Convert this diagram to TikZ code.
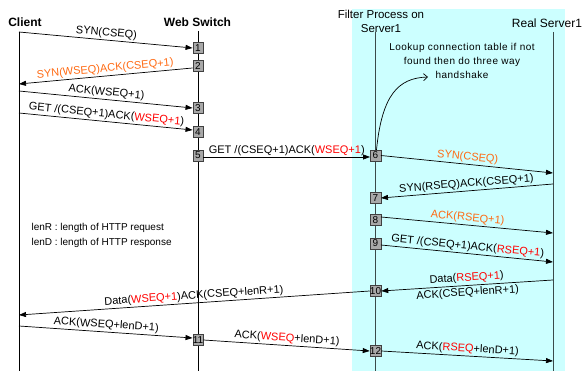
\documentclass[tikz,border=0pt]{standalone}
\usepackage{fontspec}
\setmainfont{Liberation Sans}
\usetikzlibrary{arrows.meta,calc}
\definecolor{panel}{HTML}{CCFFFF}
\definecolor{hl}{HTML}{FF6A13}
\definecolor{rd}{HTML}{FF0000}
\definecolor{boxgray}{HTML}{A8A8A8}
\definecolor{lifegray}{HTML}{3A4A4A}
\newcommand{\rseg}[1]{{\color{rd}#1}}
\begin{document}
\begin{tikzpicture}[x=1pt,y=-1pt,
  msg/.style={line width=0.7pt,-{Triangle[length=7pt,width=5pt]}},
  lbl/.style={font=\fontsize{11}{13}\selectfont, sloped, above, inner sep=1.5pt},
  lblb/.style={font=\fontsize{11}{13}\selectfont, sloped, below, inner sep=1.5pt},
  seqbox/.style={draw=black!75, fill=boxgray, minimum width=10.5pt, minimum height=11pt,
                 inner sep=0pt, font=\fontsize{10}{10}\selectfont},
  life/.style={line width=0.8pt},
  head/.style={font=\bfseries\fontsize{12}{14}\selectfont},
]
\useasboundingbox (0,0) rectangle (582,371);
% server-side panel
\fill[panel] (352,9) rectangle (565,371);

% participants
\node[head] (hc) at (25,22) {Client};
\node[head] (hw) at (197.5,22) {Web Switch};
\node[font=\fontsize{11.5}{14}\selectfont, align=center] (hf) at (381,21) {Filter Process on\\Server1};
\node[font=\fontsize{12}{14}\selectfont] (hr) at (547,23) {Real Server1};

% lifelines
\draw[life] (19,32) -- (19,371);
\draw[life] (198,31) -- (198,371);
\draw[life,lifegray] (375.5,32) -- (375.5,371);
\draw[life,lifegray] (553,32) -- (553,371);

% points on the client lifeline
\coordinate (c1) at (19,32);
\coordinate (c2) at (19,84);
\coordinate (c3) at (19,91);
\coordinate (c4) at (19,113);
\coordinate (c10) at (19,315);
\coordinate (c11) at (19,326);
% points on the real server lifeline
\coordinate (r6) at (553,173);
\coordinate (r7) at (553,184);
\coordinate (r8) at (553,233);
\coordinate (r9) at (553,262);
\coordinate (r10) at (553,280);
\coordinate (r13) at (553,361);

% sequence boxes
\node[seqbox] (b1) at (198,48) {1};
\node[seqbox] (b2) at (198,66) {2};
\node[seqbox] (b3) at (198,108) {3};
\node[seqbox] (b4) at (198,132) {4};
\node[seqbox] (b5) at (198,155.5) {5};
\node[seqbox] (b6) at (375.5,155.5) {6};
\node[seqbox] (b7) at (375.5,198) {7};
\node[seqbox] (b8) at (375.5,220) {8};
\node[seqbox] (b9) at (375.5,243.5) {9};
\node[seqbox] (b10) at (375.5,291) {10};
\node[seqbox] (b11) at (198,340) {11};
\node[seqbox] (b12) at (375.5,351) {12};

% client <-> web switch
\draw[msg] (c1) -- (b1.west) node[lbl,midway] {SYN(CSEQ)};
\draw[msg] ([yshift=-2pt]b2.west) -- (c2) node[lbl,midway,text=hl] {SYN(WSEQ)ACK(CSEQ+1)};
\draw[msg] (c3) -- (b3.west) node[lbl,midway] {ACK(WSEQ+1)};
\draw[msg] (c4) -- ([yshift=2pt]b4.west) node[lbl,midway] {GET /(CSEQ+1)ACK(\rseg{WSEQ+1})};

% web switch -> filter
\draw[msg] ([yshift=-1.5pt]b5.east) -- ([yshift=-1.5pt]b6.west) node[lbl,midway,inner sep=0.5pt] {GET /(CSEQ+1)ACK(\rseg{WSEQ+1})};

% filter <-> real server
\draw[msg] (b6.east) -- (r6) node[lbl,midway,text=hl] {SYN(CSEQ)};
\draw[msg] (r7) -- (b7.east) node[lbl,midway] {SYN(RSEQ)ACK(CSEQ+1)};
\draw[msg] ([yshift=3pt]b8.east) -- (r8) node[lbl,midway,text=hl] {ACK(RSEQ+1)};
\draw[msg] ([yshift=-1.5pt]b9.east) -- (r9) node[lbl,midway] {GET /(CSEQ+1)ACK(\rseg{RSEQ+1})};
\draw[msg] (r10) -- (b10.east)
  node[lbl,midway,inner sep=2pt] {Data(\rseg{RSEQ+1})}
  node[lblb,midway,inner sep=2pt] {ACK(CSEQ+lenR+1)};

% response back to the client
\draw[msg] (b10.west) -- (c10) node[lbl,midway] {Data(\rseg{WSEQ+1})ACK(CSEQ+lenR+1)};
\draw[msg] (c11) -- ([yshift=2pt]b11.west) node[lbl,midway] {ACK(WSEQ+lenD+1)};
\draw[msg] (b11.east) -- (b12.west) node[lbl,midway] {ACK(\rseg{WSEQ}+lenD+1)};
\draw[msg] (b12.east) -- (r13) node[lbl,midway] {ACK(\rseg{RSEQ}+lenD+1)};

% lookup remark
\node[align=center, font=\fontsize{10}{14}\selectfont\addfontfeature{LetterSpace=5}] (note) at (462,61)
  {Lookup connection table if not\\found then do three way\\handshake};
\coordinate (tip) at (428,77);
\draw[line width=0.7pt,-{Straight Barb[length=4pt,width=7pt]}]
  ([xshift=1pt]b6.north) .. controls (382,95) and (398,78) .. (tip);

% legend
\node[anchor=west, align=left, font=\fontsize{10}{15}\selectfont] (legend) at (28,235.5)
  {lenR : length of HTTP request\\lenD : length of HTTP response};
\end{tikzpicture}
\end{document}
